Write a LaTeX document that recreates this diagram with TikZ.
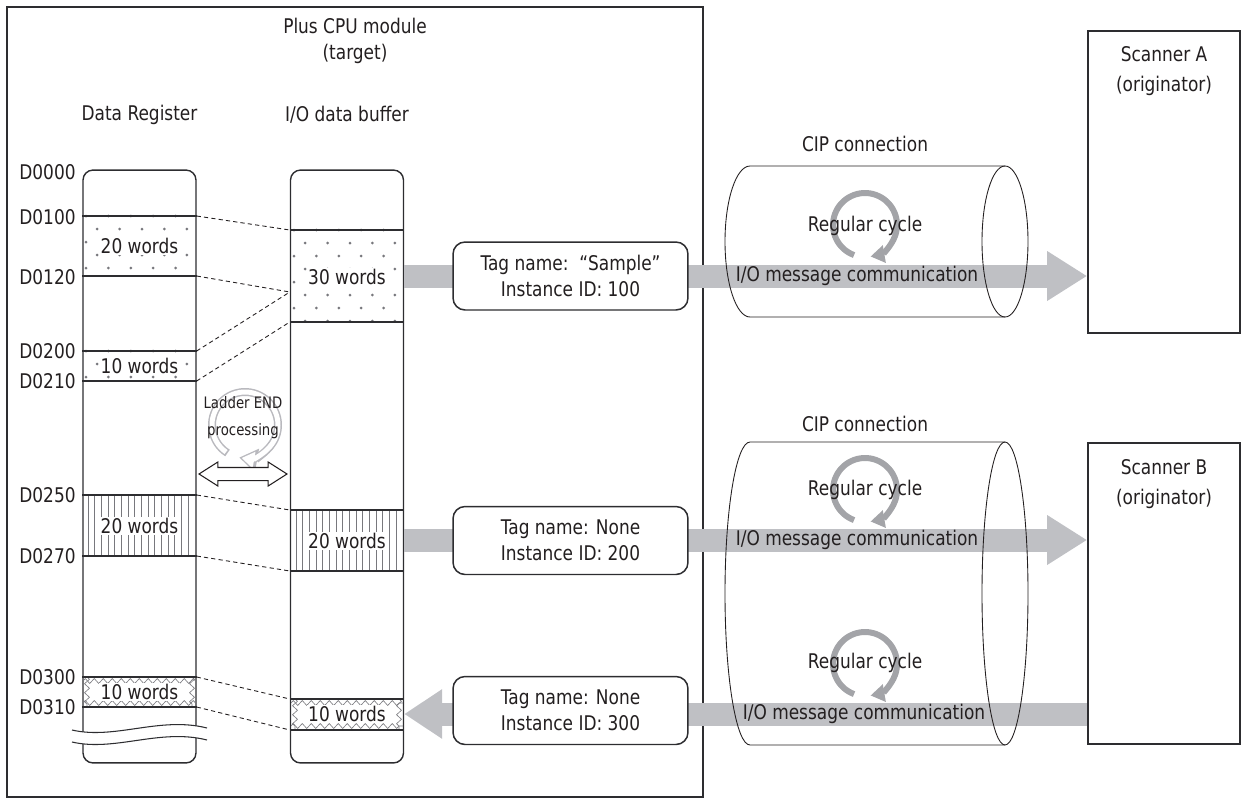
\documentclass[tikz,border=0pt]{standalone}
\usepackage{fontspec}
\setmainfont{DejaVu Sans}[FakeStretch=0.84]
\usetikzlibrary{positioning, arrows.meta, shapes.arrows, decorations.pathmorphing, calc}

\definecolor{inkgray}{RGB}{35,31,32}
\definecolor{framegray}{RGB}{45,45,48}
\definecolor{bargray}{RGB}{191,192,196}
\definecolor{cyclegray}{RGB}{163,164,168}
\definecolor{ldrgray}{RGB}{185,185,190}
\definecolor{patgray}{RGB}{120,120,125}

\tikzset{
  every node/.style={text=inkgray, font=\fontsize{11.5pt}{15pt}\selectfont},
  memcol/.style={draw=framegray, fill=white, line width=0.8pt, rounded corners=0.2cm, minimum width=2.26cm, minimum height=11.86cm, inner sep=0pt},
  secline/.style={draw=framegray, line width=0.6pt},
  mapline/.style={draw=inkgray, line width=0.5pt, dash pattern=on 2.4pt off 1.8pt},
  wordlbl/.style={fill=white, inner sep=0.8pt},
  addr/.style={anchor=east, inner sep=0pt},
  tagbox/.style={draw=framegray, line width=0.85pt, rounded corners=0.24cm, fill=white, minimum width=4.7cm, minimum height=1.36cm, align=center},
  scanbox/.style={draw=framegray, line width=1pt, minimum width=3.04cm, minimum height=6.04cm, inner sep=0pt},
  bar/.style={draw=bargray, line width=0.46cm, -{Triangle[length=0.8cm, width=0.94cm]}},
  regcyc/.style={draw=cyclegray, line width=0.12cm, -{Triangle[length=0.28cm, width=0.34cm]}},
  pipe/.style={draw=inkgray, line width=0.5pt},
  hatch/.style={draw=patgray, line width=0.35pt},
  zig/.style={draw=patgray, line width=0.35pt, decorate, decoration={zigzag, segment length=0.18cm, amplitude=0.05cm}},
}

% dotted area, hatched area, zigzag area
\newcommand{\dotblock}[4]{%
  \begin{scope}
    \clip (#1,{#2-2}) rectangle (#3,{#4+2});
    \foreach \r in {0,...,8} {
      \pgfmathsetmacro{\off}{mod(\r,2)*11.2}
      \foreach \c in {0,...,5}
        \fill[patgray] ({#1+3+\off+22.4*\c},{#2+13*\r}) circle (1.5);
    }
  \end{scope}}
\newcommand{\hatchblock}[4]{%
  \foreach \x in {0,...,15}
    \draw[hatch] ({#1+5+6.67*\x},#2) -- ({#1+5+6.67*\x},#4);}
\newcommand{\zigblock}[4]{%
  \begin{scope}
    \clip (#1,#2) rectangle (#3,#4);
    \draw[zig] (#1,{#2+4}) -- (#3,{#2+4});
    \draw[zig] (#1,{#4-4}) -- (#3,{#4-4});
    \draw[zig] ({#1+4},#2) -- ({#1+4},#4);
    \draw[zig] ({#3-4},#2) -- ({#3-4},#4);
  \end{scope}}

\begin{document}
\begin{tikzpicture}[x=0.02cm, y=-0.02cm]
    \useasboundingbox (0,0) rectangle (1241,805);

    % Target module frame
    \node[draw=framegray, line width=1pt, minimum width=13.92cm, minimum height=15.8cm, inner sep=0pt] (cpu) at (355,402) {};
    \node[align=center] (cputxt) at (355,41) {Plus CPU module\\(target)};

    % Memory columns
    \node[memcol] (reg) at (139.5,466.5) {};
    \node[memcol] (buf) at (347,466.5) {};
    \node (regtxt) at (139.5,115) {Data Register};
    \node (buftxt) at (347,115) {I/O data buffer};

    % Fill patterns
    \dotblock{83}{216}{196}{276}
    \dotblock{83}{351}{196}{381}
    \hatchblock{83}{495}{196}{556}
    \zigblock{83}{677}{196}{707}
    \dotblock{291}{230}{403}{322}
    \hatchblock{291}{510}{403}{571}
    \zigblock{291}{699}{403}{730}

    % Section borders
    \foreach \y in {216,276,351,381,495,556,677,707}
        \draw[secline] (reg.west |- 0,\y) -- (reg.east |- 0,\y);
    \foreach \y in {230,322,510,571,699,730}
        \draw[secline] (buf.west |- 0,\y) -- (buf.east |- 0,\y);

    % Word counts
    \node[wordlbl] (w1) at (139.5,246) {20 words};
    \node[wordlbl] (w2) at (139.5,366) {10 words};
    \node[wordlbl] (w3) at (139.5,526) {20 words};
    \node[wordlbl] (w4) at (139.5,692) {10 words};
    \node[wordlbl] (w5) at (347,277) {30 words};
    \node[wordlbl] (w6) at (347,541) {20 words};
    \node[wordlbl] (w7) at (347,714) {10 words};

    % Mapping lines
    \foreach \a/\b in {216/230, 276/292, 351/292, 381/322, 495/510, 556/571, 677/699, 707/730}
        \draw[mapline] (reg.east |- 0,\a) -- (buf.west |- 0,\b);

    % Addresses
    \foreach \a/\y in {D0000/172, D0100/217, D0120/277, D0200/351, D0210/381, D0250/495, D0270/556, D0300/677, D0310/707}
        \node[addr] (a\a) at (76,\y) {\a};

    % Ladder END processing
    \draw[ldrgray, line width=0.16cm, -{Triangle[length=0.36cm, width=0.46cm]}] ($(245,425)+(122:33)$) arc[start angle=122, end angle=460, radius=33];
    \draw[white, line width=0.1cm, -{Triangle[length=0.25cm, width=0.32cm, sep=0.05cm]}] ($(245,425)+(125:33)$) arc[start angle=125, end angle=460, radius=33];
    \node[align=center, font=\fontsize{9pt}{15.4pt}\selectfont] (ldrtxt) at (243,418) {Ladder END\\processing};
    \node[double arrow, draw=inkgray, fill=white, line width=0.6pt, minimum height=1.76cm, inner xsep=0pt, inner ysep=0.12cm, double arrow head extend=0.11cm, double arrow tip angle=65] (ldrarrow) at (243,474) {};

    % Break mark
    \fill[white] (72,730) .. controls (115,740) and (160,716) .. (207,728) -- (207,740) .. controls (160,728) and (115,752) .. (72,742) -- cycle;
    \draw[secline] (72,730) .. controls (115,740) and (160,716) .. (207,728);
    \draw[secline] (72,742) .. controls (115,752) and (160,728) .. (207,740);

    % Scanners
    \node[scanbox] (scanA) at (1164,182) {};
    \node[scanbox, minimum height=6.02cm] (scanB) at (1164,593.5) {};
    \node[align=center, font=\fontsize{11.5pt}{17pt}\selectfont] (scanAtxt) at (1164,71) {Scanner A\\(originator)};
    \node[align=center, font=\fontsize{11.5pt}{17pt}\selectfont] (scanBtxt) at (1164,484) {Scanner B\\(originator)};

    % Data flow
    \draw[bar] (buf.east |- 0,276) -- (scanA.west |- 0,276);
    \draw[bar] (buf.east |- 0,540) -- (scanB.west |- 0,540);
    \draw[bar, -{Triangle[length=0.76cm, width=0.94cm]}] (scanB.west |- 0,714) -- (buf.east |- 0,714);

    % Tags
    \node[tagbox] (tag1) at (570.5,276) {Tag name:\ \ “Sample”\\Instance ID: 100};
    \node[tagbox] (tag2) at (570.5,540.5) {Tag name: None\\Instance ID: 200};
    \node[tagbox] (tag3) at (570.5,710.5) {Tag name: None\\Instance ID: 300};

    % CIP connections
    \draw[pipe] (1005,166) -- (750,166) arc[start angle=270, end angle=90, x radius=25, y radius=75.5] -- (1005,317);
    \draw[pipe] (1005,241.5) ellipse [x radius=23, y radius=75.5];
    \draw[pipe] (1005,442) -- (750,442) arc[start angle=270, end angle=90, x radius=25, y radius=151.5] -- (1005,745);
    \draw[pipe] (1005,593.5) ellipse [x radius=23, y radius=151.5];
    \node (cip1) at (865,144) {CIP connection};
    \node (cip2) at (865,424) {CIP connection};

    \draw[regcyc] ($(865,225)+(110:32)$) arc[start angle=110, end angle=440, radius=32];
    \draw[regcyc] ($(865,490)+(110:32)$) arc[start angle=110, end angle=440, radius=32];
    \draw[regcyc] ($(865,664)+(110:32)$) arc[start angle=110, end angle=440, radius=32];
    \node (cyc1) at (865,226) {Regular cycle};
    \node (cyc2) at (865,490) {Regular cycle};
    \node (cyc3) at (865,663) {Regular cycle};

    \node (msg1) at (857,276) {I/O message communication};
    \node (msg2) at (857,540) {I/O message communication};
    \node (msg3) at (864,714) {I/O message communication};
\end{tikzpicture}
\end{document}
